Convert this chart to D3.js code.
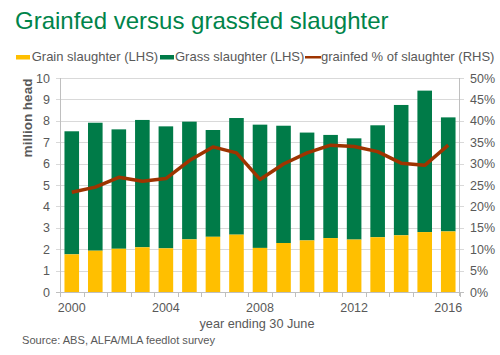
<!DOCTYPE html>
<html><head><meta charset="utf-8">
<script src="https://cdn.jsdelivr.net/npm/d3@7/dist/d3.min.js"></script>
<style>body{margin:0;background:#fff}svg{display:block;font-family:"Liberation Sans",Arial,sans-serif}</style>
</head><body><svg id="c" width="500" height="355"></svg>
<script>
const years = [2000,2001,2002,2003,2004,2005,2006,2007,2008,2009,2010,2011,2012,2013,2014,2015,2016];
const grain = [1.76,1.93,2.02,2.09,2.04,2.46,2.58,2.68,2.06,2.29,2.41,2.52,2.45,2.56,2.65,2.80,2.83];
const total = [7.51,7.91,7.60,8.04,7.74,7.96,7.57,8.13,7.82,7.77,7.45,7.34,7.18,7.79,8.74,9.41,8.16];
const grainPct = [23.3,24.5,26.8,25.9,26.5,30.7,33.9,32.5,26.3,29.9,32.5,34.3,34.0,32.8,30.1,29.6,34.3];
const leftTicks = [0,1,2,3,4,5,6,7,8,9,10];
const rightTicks = [0,5,10,15,20,25,30,35,40,45,50];
const xLabelYears = [2000,2004,2008,2012,2016];

const svg = d3.select("#c");
const L=60,R=460,T=78,B=292;
const x = d3.scaleBand().domain(years).range([L,R]).paddingInner(0.38).paddingOuter(0.19);
const y = d3.scaleLinear().domain([0,10]).range([B,T]);
const y2 = d3.scaleLinear().domain([0,50]).range([B,T]);
const txt="#595959", grid="#d9d9d9", axisC="#bfbfbf";

svg.append("text").attr("x",15).attr("y",29).attr("fill","#00844A").attr("font-size",24).text("Grainfed versus grassfed slaughter");

// gridlines
svg.append("g").selectAll("line").data(leftTicks.filter(d=>d>0)).join("line")
 .attr("x1",L-4).attr("x2",R+4).attr("y1",d=>Math.round(y(d))+0.5).attr("y2",d=>Math.round(y(d))+0.5).attr("stroke",grid);

// bars
const g = svg.append("g");
g.selectAll("rect.gs").data(years).join("rect").attr("class","gs")
 .attr("x",d=>x(d)).attr("width",x.bandwidth())
 .attr("y",(d,i)=>y(total[i])).attr("height",(d,i)=>y(grain[i])-y(total[i])).attr("fill","#007B48");
g.selectAll("rect.gr").data(years).join("rect").attr("class","gr")
 .attr("x",d=>x(d)).attr("width",x.bandwidth())
 .attr("y",(d,i)=>y(grain[i])).attr("height",(d,i)=>y(0)-y(grain[i])).attr("fill","#FFBF00");

// axes lines
svg.append("line").attr("x1",L+0.5).attr("x2",L+0.5).attr("y1",T).attr("y2",B+4).attr("stroke",axisC);
svg.append("line").attr("x1",R-0.5).attr("x2",R-0.5).attr("y1",T).attr("y2",B+4).attr("stroke",axisC);
svg.append("line").attr("x1",L-4).attr("x2",R+4).attr("y1",B+0.5).attr("y2",B+0.5).attr("stroke",axisC);
// x ticks at band boundaries
const bounds = years.map(d=>x(d)-x.step()*x.paddingInner()/2);
bounds.push(R);
svg.append("g").selectAll("line").data(bounds).join("line")
 .attr("x1",d=>Math.round(d)+0.5).attr("x2",d=>Math.round(d)+0.5).attr("y1",B).attr("y2",B+5).attr("stroke",axisC);

// line
const line = d3.line().x((d,i)=>x(years[i])+x.bandwidth()/2).y(d=>y2(d));
svg.append("path").datum(grainPct).attr("d",line).attr("fill","none").attr("stroke","#9E3400").attr("stroke-width",3.5).attr("stroke-linejoin","round");

// tick labels
const fs=12.5;
svg.append("g").selectAll("text").data(leftTicks).join("text")
 .attr("x",L-10).attr("y",d=>y(d)+4.5).attr("text-anchor","end").attr("font-size",fs).attr("fill",txt).text(d=>d);
svg.append("g").selectAll("text").data(rightTicks).join("text")
 .attr("x",R+10).attr("y",d=>y2(d)+4.5).attr("font-size",fs).attr("fill",txt).text(d=>d+"%");
svg.append("g").selectAll("text").data(xLabelYears).join("text")
 .attr("x",d=>x(d)+x.bandwidth()/2).attr("y",311.5).attr("text-anchor","middle").attr("font-size",fs).attr("fill",txt).text(d=>d);

svg.append("text").attr("transform","translate(32,118) rotate(-90)").attr("text-anchor","middle")
 .attr("font-size",13.5).attr("font-weight","bold").attr("fill",txt).text("million head");
svg.append("text").attr("x",257).attr("y",327.5).attr("text-anchor","middle").attr("font-size",12.7).attr("fill",txt).text("year ending 30 June");
svg.append("text").attr("x",22).attr("y",343.5).attr("font-size",11.1).attr("fill",txt).text("Source: ABS, ALFA/MLA feedlot survey");

// legend
const lg = svg.append("g");
const items=[{t:"Grain slaughter (LHS)",c:"#FFBF00",x:16,tx:31.7,type:"rect"},{t:"Grass slaughter (LHS)",c:"#007B48",x:160,tx:175,type:"rect"},{t:"grainfed % of slaughter (RHS)",c:"#9E3400",x:305,tx:321,type:"line"}];
items.forEach(it=>{
  if(it.type==="rect") lg.append("rect").attr("x",it.x).attr("y",55).attr("width",14).attr("height",4.5).attr("fill",it.c);
  else lg.append("rect").attr("x",it.x).attr("y",56).attr("width",16).attr("height",2.5).attr("fill",it.c);
  lg.append("text").attr("x",it.tx).attr("y",60.5).attr("font-size",13).attr("fill",txt).text(it.t);
});
</script></body></html>
